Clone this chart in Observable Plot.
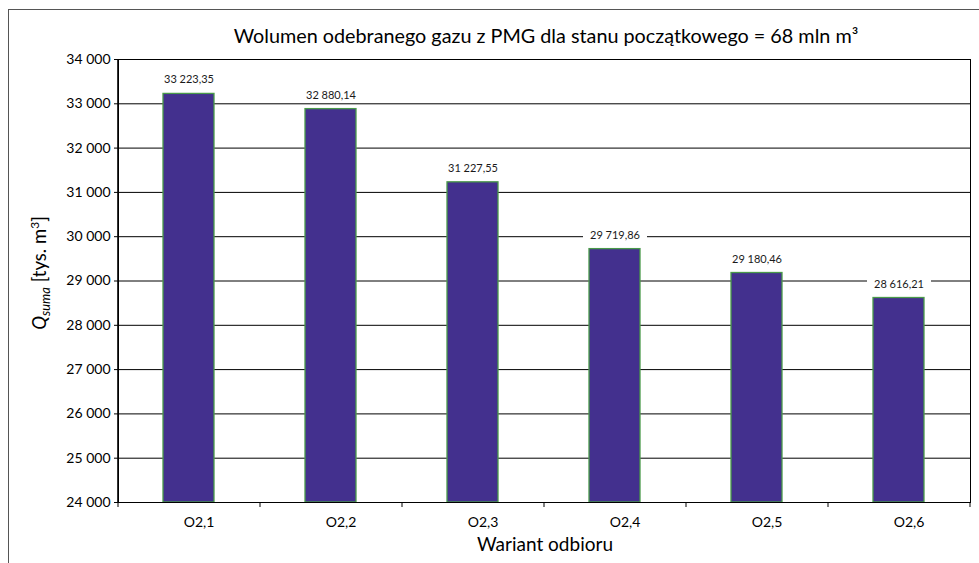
<!DOCTYPE html>
<html>
<head>
<meta charset="utf-8">
<script src="https://cdn.jsdelivr.net/npm/d3@7"></script>
<script src="https://cdn.jsdelivr.net/npm/@observablehq/plot@0.6"></script>
<style>
  html, body { margin: 0; padding: 0; background: #fff; overflow: hidden; }
  #wrap { position: relative; width: 979px; height: 563px; }
  #outer { position: absolute; left: 8px; top: 9px; width: 990px; height: 600px;
           border-left: 1.5px solid #555; border-top: 1.5px solid #555; pointer-events: none; }
  svg { position: absolute; left: 0; top: 0; font-family: Lato, sans-serif; }
</style>
</head>
<body>
<div id="wrap"><div id="outer"></div></div>
<script>
// ---- data ----
const categories = ["O2,1", "O2,2", "O2,3", "O2,4", "O2,5", "O2,6"];
const values = [33223.35, 32880.14, 31227.55, 29719.86, 29180.46, 28616.21];
const yTicks = [24000, 25000, 26000, 27000, 28000, 29000, 30000, 31000, 32000, 33000, 34000];
const yMin = 24000, yMax = 34000;
const titleText = "Wolumen odebranego gazu z PMG dla stanu początkowego = 68 mln m³";
const xLabel = "Wariant odbioru";

const data = categories.map((c, i) => ({cat: c, value: values[i]}));
const pl = d3.formatLocale({decimal: ",", thousands: " ", grouping: [3]});
const fmtVal = pl.format(",.2f");
const fmtTick = pl.format(",.0f");

const W = 979, H = 563;
const chart = Plot.plot({
  width: W, height: H,
  marginTop: 59, marginRight: 9, marginBottom: 61, marginLeft: 118,
  style: {fontFamily: "Lato, sans-serif", fontSize: "14px", color: "#000", background: "transparent"},
  x: {domain: categories, paddingInner: 0.64, paddingOuter: 0.32, label: null},
  y: {domain: [yMin, yMax], label: null},
  marks: [
    Plot.gridY(yTicks, {stroke: "#000", strokeOpacity: 1, strokeWidth: 1}),
    Plot.barY(data, {x: "cat", y1: yMin, y2: "value", fill: "#43308e", stroke: "#4a9a4a", strokeWidth: 1.3}),
    Plot.text(data, {x: "cat", y: "value", text: d => fmtVal(d.value), dy: -14,
      fontSize: 11, fill: "#1a1a1a"}),
    Plot.frame({stroke: "#000", strokeWidth: 1}),
    Plot.axisY({ticks: yTicks, tickSize: 4, tickPadding: 4, tickFormat: d => fmtTick(d), stroke: "#000", fill: "#000", label: null}),
    Plot.axisX({tickSize: 0, tickPadding: 15, dx: 10, fill: "#000", label: null}),
    Plot.axisX({tickSize: 5, tickFormat: () => "", dx: -71, stroke: "#000", label: null}),
    Plot.axisX({ticks: [categories[categories.length - 1]], tickSize: 5, tickFormat: () => "", dx: 71, stroke: "#000", label: null}),
    Plot.ruleX([0], {x: () => categories[0], dx: -71, stroke: "#000", strokeWidth: 1.6})
  ]
});
document.getElementById("wrap").appendChild(chart);

const svg = d3.select(chart);
// white boxes behind the value labels
svg.selectAll('g[aria-label="text"] text').each(function() {
  const b = this.getBBox();
  const t = this.getAttribute("transform");
  const r = document.createElementNS("http://www.w3.org/2000/svg", "rect");
  r.setAttribute("x", b.x - 7); r.setAttribute("y", b.y - 2);
  r.setAttribute("width", b.width + 14); r.setAttribute("height", b.height + 4);
  r.setAttribute("fill", "white");
  r.setAttribute("stroke", "none");
  if (t) r.setAttribute("transform", t);
  this.parentNode.insertBefore(r, this);
});

svg.append("text")
  .attr("x", 546).attr("y", 43)
  .attr("text-anchor", "middle")
  .style("font-size", "19.8px").style("fill", "#000")
  .text(titleText);

svg.append("text")
  .attr("x", 545).attr("y", 551)
  .attr("text-anchor", "middle")
  .style("font-size", "19px").style("fill", "#000")
  .text(xLabel);

const yl = svg.append("text")
  .attr("transform", "translate(46,273) rotate(-90)")
  .attr("text-anchor", "middle")
  .style("font-size", "18.5px").style("fill", "#000");
yl.append("tspan").style("font-style", "italic").text("Q");
yl.append("tspan").style("font-style", "italic").style("font-size", "13px").attr("dy", 4).text("suma");
yl.append("tspan").attr("dy", -4).text(" [tys. m");
yl.append("tspan").style("font-size", "12px").attr("dy", -7).text("3");
yl.append("tspan").attr("dy", 7).text("]");
</script>
</body>
</html>
